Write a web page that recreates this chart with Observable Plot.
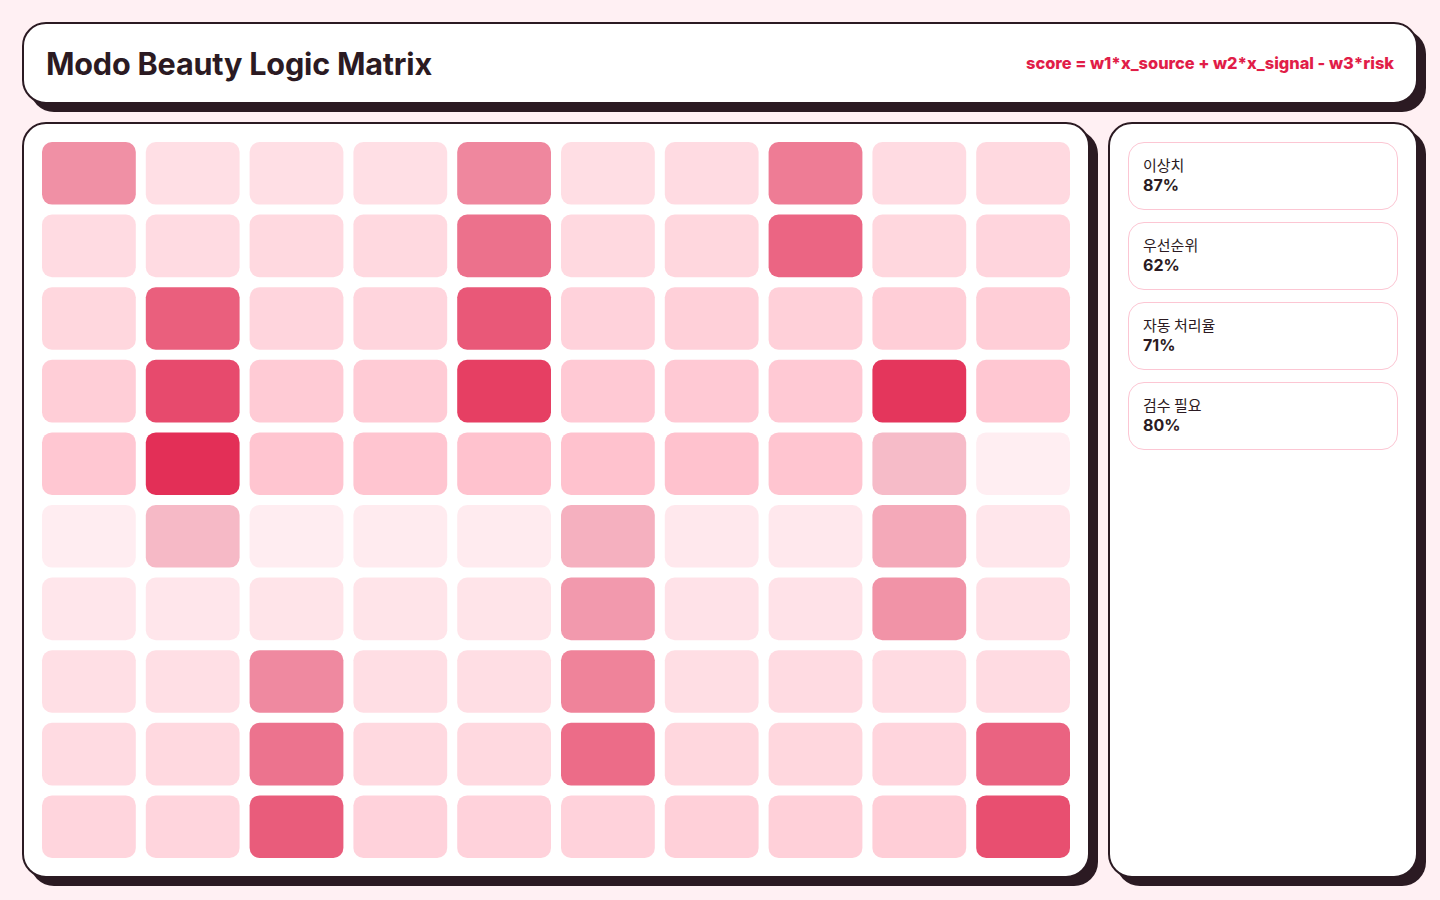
<!DOCTYPE html>
<html>
<head>
<meta charset="utf-8">
<script src="https://cdn.jsdelivr.net/npm/d3@7"></script>
<script src="https://cdn.jsdelivr.net/npm/@observablehq/plot@0.6"></script>
<style>
  html, body { margin: 0; padding: 0; }
  body {
    width: 1440px; height: 900px; position: relative; overflow: hidden;
    background: #fff0f3;
    font-family: Inter, "Noto Sans CJK KR", "Noto Sans", sans-serif;
    color: #2b1a22;
  }
  .card {
    position: absolute; box-sizing: border-box; background: #ffffff;
    border: 2px solid #2b1a22; border-radius: 24px;
    box-shadow: 8px 8px 0 #2b1a22;
  }
  #header { left: 22px; top: 22px; width: 1396px; height: 82px; }
  #title {
    position: absolute; left: 22px; top: 0; line-height: 80px;
    font-size: 30.6px; font-weight: 700; letter-spacing: -0.2px; margin: 0;
  }
  #formula {
    position: absolute; right: 22px; top: 0; line-height: 79px;
    font-size: 16.4px; font-weight: 800; color: #e11d48;
  }
  #main { left: 22px; top: 122px; width: 1068px; height: 756px; }
  #side { left: 1108px; top: 122px; width: 310px; height: 756px; }
  #chart { position: absolute; left: 37px; top: 137px; width: 1038px; height: 726px; }
  .kpi {
    position: absolute; left: 1128px; width: 270px; height: 68px; box-sizing: border-box;
    border: 1px solid #fcc6d3; border-radius: 16px; background: #fff;
    padding: 11px 14px;
  }
  .kpi .lab { font-size: 15px; line-height: 21px; font-weight: 400; font-family: "Noto Sans CJK KR", Inter, sans-serif; }
  .kpi .val { font-size: 16px; line-height: 21px; font-weight: 700; }
</style>
</head>
<body>
<div id="header" class="card">
  <h1 id="title">Modo Beauty Logic Matrix</h1>
  <div id="formula">score = w1*x_source + w2*x_signal - w3*risk</div>
</div>
<div id="main" class="card"></div>
<div id="side" class="card"></div>
<div id="chart"></div>
<div id="kpis"></div>
<script>
// ---- data ----
const rowIds = ["r1","r2","r3","r4","r5","r6","r7","r8","r9","r10"];
const colIds = ["c1","c2","c3","c4","c5","c6","c7","c8","c9","c10"];
const row1  = [0.49, 0.14, 0.14, 0.14, 0.53, 0.15, 0.16, 0.58, 0.16, 0.17];
const row2  = [0.16, 0.16, 0.17, 0.17, 0.63, 0.17, 0.18, 0.68, 0.18, 0.19];
const row3  = [0.18, 0.71, 0.19, 0.19, 0.74, 0.20, 0.21, 0.21, 0.22, 0.22];
const row4  = [0.22, 0.80, 0.23, 0.23, 0.85, 0.24, 0.24, 0.24, 0.89, 0.25];
const row5  = [0.25, 0.92, 0.26, 0.26, 0.27, 0.27, 0.27, 0.26, 0.30, 0.076];
const row6  = [0.08, 0.31, 0.08, 0.09, 0.09, 0.35, 0.10, 0.10, 0.38, 0.11];
const row7  = [0.11, 0.11, 0.12, 0.12, 0.12, 0.45, 0.13, 0.13, 0.48, 0.14];
const row8  = [0.14, 0.14, 0.52, 0.15, 0.15, 0.55, 0.15, 0.16, 0.16, 0.16];
const row9  = [0.16, 0.17, 0.62, 0.17, 0.17, 0.65, 0.18, 0.18, 0.19, 0.69];
const row10 = [0.19, 0.19, 0.72, 0.20, 0.20, 0.20, 0.21, 0.21, 0.22, 0.78];
const scoreRows = [row1,row2,row3,row4,row5,row6,row7,row8,row9,row10];
const hotThreshold = 0.29;
const kpiLabels = ["이상치", "우선순위", "자동 처리율", "검수 필요"];
const kpiValues = ["87%", "62%", "71%", "80%"];

// ---- table for Plot ----
const cells = [];
scoreRows.forEach((vals, i) => vals.forEach((v, j) => cells.push({row: rowIds[i], col: colIds[j], score: v})));
const baseCells = cells.filter(d => d.score < hotThreshold);
const hotCells = cells.filter(d => d.score >= hotThreshold);

const chart = Plot.plot({
  width: 1038,
  height: 726,
  margin: 0,
  x: {domain: colIds, padding: 0, round: false, axis: null},
  y: {domain: rowIds, padding: 0, round: false, axis: null},
  color: {type: "linear", domain: [0, 1], range: ["#ffffff", "#e11d48"], interpolate: "rgb"},
  opacity: {type: "linear", domain: [0, 1], range: [0, 1]},
  style: {background: "transparent"},
  marks: [
    Plot.cell(baseCells, {x: "col", y: "row", fill: "#ff1f4a", fillOpacity: "score", inset: 5, rx: 10}),
    Plot.cell(hotCells, {x: "col", y: "row", fill: "score", inset: 5, rx: 10})
  ]
});
document.getElementById("chart").appendChild(chart);

const kpis = document.getElementById("kpis");
kpiLabels.forEach((lab, i) => {
  const d = document.createElement("div");
  d.className = "kpi";
  d.style.top = (142 + i * 80) + "px";
  d.innerHTML = `<div class="lab">${lab}</div><div class="val">${kpiValues[i]}</div>`;
  kpis.appendChild(d);
});
</script>
</body>
</html>
